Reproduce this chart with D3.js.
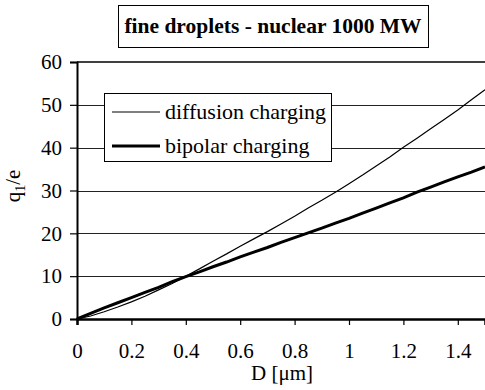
<!DOCTYPE html>
<html>
<head>
<meta charset="utf-8">
<script src="https://cdn.jsdelivr.net/npm/d3@7"></script>
<style>
  body { margin: 0; background: #fff; }
</style>
</head>
<body>
<script>
// diameter D in micrometers
const diameters = [0, 0.05, 0.1, 0.15, 0.2, 0.25, 0.3, 0.35, 0.4, 0.45, 0.5, 0.55, 0.6, 0.65, 0.7, 0.75,
  0.8, 0.85, 0.9, 0.95, 1.0, 1.05, 1.1, 1.15, 1.2, 1.25, 1.3, 1.35, 1.4, 1.45, 1.5];

// q1/e values
const diffusion = [0, 0.7, 1.7, 2.8, 4.0, 5.3, 6.8, 8.3, 10.0, 11.7, 13.5, 15.2, 17.0, 18.7, 20.4, 22.2,
  24.0, 25.9, 27.7, 29.6, 31.6, 33.6, 35.7, 37.8, 40.1, 42.2, 44.4, 46.6, 48.8, 51.2, 53.5];
const bipolar = [0, 1.3, 2.6, 3.8, 5.0, 6.2, 7.4, 8.7, 9.9, 11.0, 12.2, 13.3, 14.5, 15.6, 16.7, 17.9,
  19.0, 20.1, 21.2, 22.4, 23.5, 24.7, 25.9, 27.1, 28.3, 29.6, 30.8, 32.0, 33.2, 34.3, 35.5];

const xTicks = [0, 0.2, 0.4, 0.6, 0.8, 1, 1.2, 1.4];
const yTicks = [0, 10, 20, 30, 40, 50, 60];

const FONT = "'Liberation Serif', 'Times New Roman', Times, serif";
const width = 485, height = 390;
const svg = d3.select("body").append("svg")
  .attr("width", width)
  .attr("height", height)
  .attr("font-family", FONT);

const x = d3.scaleLinear().domain([0, 1.5]).range([77, 485]);
const y = d3.scaleLinear().domain([0, 60]).range([319, 62]);

// gridlines
svg.append("g")
  .selectAll("line")
  .data(yTicks.filter(d => d > 0 && d < 60))
  .join("line")
  .attr("x1", x(0)).attr("x2", width)
  .attr("y1", d => Math.round(y(d)) + 0.5).attr("y2", d => Math.round(y(d)) + 0.5)
  .attr("stroke", "#222").attr("stroke-width", 1);

// top border of plot area
svg.append("line")
  .attr("x1", x(0)).attr("x2", width)
  .attr("y1", y(60)).attr("y2", y(60))
  .attr("stroke", "#000").attr("stroke-width", 1.5);

// y axis
const yAxis = svg.append("g")
  .attr("transform", `translate(${x(0)},0)`)
  .call(d3.axisLeft(y).tickValues(yTicks).tickSize(7).tickPadding(8));
yAxis.attr("font-family", FONT).attr("font-size", 21);
yAxis.select(".domain").attr("stroke-width", 2);
yAxis.selectAll(".tick line").attr("stroke-width", 1.2);
yAxis.selectAll("text").attr("fill", "#000");

// x axis
const xAxis = svg.append("g")
  .attr("transform", `translate(0,${y(0)})`)
  .call(d3.axisBottom(x).tickValues(xTicks).tickSize(6).tickPadding(18)
    .tickFormat(d => String(d)));
xAxis.attr("font-family", FONT).attr("font-size", 21);
xAxis.select(".domain").attr("stroke-width", 2.5);
xAxis.selectAll(".tick line").attr("stroke-width", 1.2);
xAxis.selectAll("text").attr("fill", "#000");

// series
const line = d3.line()
  .x((d, i) => x(diameters[i]))
  .y(d => y(d));

svg.append("path")
  .datum(diffusion)
  .attr("fill", "none")
  .attr("stroke", "#000")
  .attr("stroke-width", 1.2)
  .attr("d", line);

svg.append("path")
  .datum(bipolar)
  .attr("fill", "none")
  .attr("stroke", "#000")
  .attr("stroke-width", 3)
  .attr("d", line);

// axis labels
svg.append("text")
  .attr("x", 282)
  .attr("y", 380)
  .attr("text-anchor", "middle")
  .attr("font-size", 21)
  .text("D [μm]");

const yl = svg.append("text")
  .attr("transform", "translate(20,186) rotate(-90)")
  .attr("text-anchor", "middle")
  .attr("font-size", 21);
yl.append("tspan").text("q");
yl.append("tspan").attr("dy", 5).attr("font-size", 14).text("1");
yl.append("tspan").attr("dy", -5).text("/e");

// title box
svg.append("rect")
  .attr("x", 118.5).attr("y", 5.5)
  .attr("width", 310).attr("height", 42)
  .attr("fill", "#fff").attr("stroke", "#000").attr("stroke-width", 1);
svg.append("text")
  .attr("x", 273)
  .attr("y", 33)
  .attr("text-anchor", "middle")
  .attr("font-size", 21.5)
  .attr("font-weight", "bold")
  .text("fine droplets - nuclear 1000 MW");

// legend
const legend = svg.append("g");
legend.append("rect")
  .attr("x", 104.5).attr("y", 93.5)
  .attr("width", 227).attr("height", 68)
  .attr("fill", "#fff").attr("stroke", "#000").attr("stroke-width", 1);

const legendNames = ["diffusion charging", "bipolar charging"];
const legendWidths = [1.2, 3];
legendNames.forEach((name, i) => {
  const ly = 112 + i * 34;
  legend.append("line")
    .attr("x1", 112).attr("x2", 160)
    .attr("y1", ly).attr("y2", ly)
    .attr("stroke", "#000").attr("stroke-width", legendWidths[i]);
  legend.append("text")
    .attr("x", 165).attr("y", ly + 7)
    .attr("font-size", 22)
    .text(name);
});
</script>
</body>
</html>
